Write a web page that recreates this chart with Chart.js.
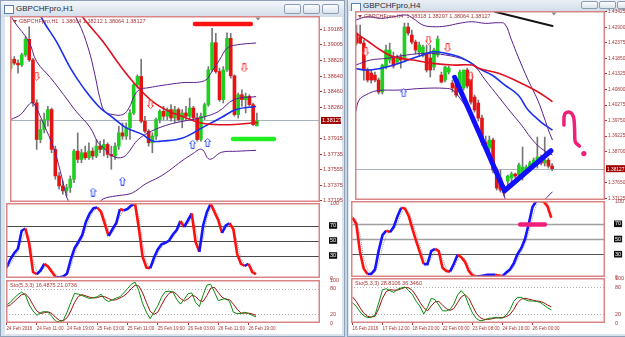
<!DOCTYPE html>
<html>
<head>
<meta charset="utf-8">
<title>GBPCHFpro H1 / H4</title>
<script src="https://cdn.jsdelivr.net/npm/chart.js@4.4.1/dist/chart.umd.min.js"></script>
<style>
  body { margin:0; width:625px; height:337px; overflow:hidden; position:relative; background:#c9d5e3; font-family:"Liberation Sans", Arial, sans-serif; }
  .frame { position:absolute; background:#dae4ef; border:1px solid #8ea1b7; box-sizing:border-box; }
  .bar { position:absolute; left:0; right:0; top:0; height:16px; background:linear-gradient(#f3f7fb,#d3deea); }
  .bar span { position:absolute; left:15px; top:3px; font-size:8px; color:#1e2a3a; }
  .ico { position:absolute; left:3px; top:4px; width:8px; height:7px; border:1px solid #5b7fb0; background:#fff; }
  .btn { position:absolute; top:3px; width:17px; height:10px; border:1px solid #8c9db3; border-radius:2px; background:linear-gradient(#fbfcfe,#dbe4ef); box-sizing:border-box; }
  .client { position:absolute; background:#fff; }
  canvas { position:absolute; }
</style>
</head>
<body>
<div class="frame" style="left:0;top:0;width:345px;height:337px">
  <div class="bar"><div class="ico"></div><span>GBPCHFpro,H1</span>
    <div class="btn" style="left:283px"></div><div class="btn" style="left:302px"></div><div class="btn" style="left:321px"></div>
  </div>
  <div class="client" style="left:4px;top:16px;width:337px;height:317px"></div>
</div>
<div class="frame" style="left:347px;top:-6px;width:280px;height:343px">
  <div class="bar"><div class="ico" style="top:8px"></div><span style="top:6px">GBPCHFpro,H4</span>
    <div class="btn" style="left:233px;top:6px;height:8px"></div><div class="btn" style="left:251px;top:6px;height:8px"></div><div class="btn" style="left:269px;top:6px;height:8px"></div>
  </div>
  <div class="client" style="left:1px;top:16px;width:278px;height:323px"></div>
</div>
<script>
// ---------- H1 (left window) ----------
const h1Open = [1.38734,1.38838,1.38792,1.38772,1.38888,1.39069,1.38830,1.38330,1.37906,1.38022,
  1.38137,1.38253,1.37791,1.37483,1.37367,1.37309,1.37348,1.37444,1.37771,1.37675,
  1.37752,1.37694,1.37771,1.37714,1.37829,1.37791,1.37848,1.37733,1.37714,1.37829,
  1.37983,1.37945,1.38041,1.38214,1.38541,1.38638,1.38118,1.38002,1.37868,1.37945,
  1.38137,1.38233,1.38176,1.38253,1.38156,1.38253,1.38137,1.38214,1.38176,1.38272,
  1.38156,1.37906,1.38176,1.38310,1.38715,1.39030,1.38695,1.38368,1.38715,1.39080,
  1.38645,1.38195,1.38426,1.38368,1.38407,1.38310,1.38064];
const h1High = [1.38869,1.38869,1.38830,1.38907,1.39100,1.39215,1.38849,1.38368,1.38137,1.38214,
  1.38291,1.38272,1.37829,1.37521,1.37425,1.37386,1.37483,1.37791,1.37983,1.37791,
  1.37829,1.37868,1.37810,1.37906,1.37887,1.37906,1.37868,1.37829,1.37868,1.38060,
  1.38098,1.38098,1.38253,1.38561,1.38657,1.38838,1.38176,1.38022,1.37983,1.38156,
  1.38253,1.38291,1.38272,1.38310,1.38291,1.38272,1.38253,1.38291,1.38387,1.38291,
  1.38214,1.38214,1.38330,1.38753,1.39196,1.39138,1.38734,1.38753,1.39146,1.39138,
  1.38657,1.38445,1.38484,1.38445,1.38426,1.38330,1.38212];
const h1Low = [1.38695,1.38772,1.38676,1.38753,1.38869,1.38811,1.38291,1.37791,1.37868,1.37983,
  1.38060,1.37752,1.37444,1.37328,1.37271,1.37251,1.37290,1.37405,1.37637,1.37637,
  1.37675,1.37675,1.37675,1.37694,1.37752,1.37714,1.37694,1.37560,1.37675,1.37791,
  1.37906,1.37906,1.37906,1.38195,1.38503,1.38098,1.37983,1.37829,1.37752,1.37906,
  1.38098,1.38137,1.38137,1.38118,1.38098,1.38118,1.38041,1.38137,1.38137,1.38137,
  1.37887,1.37887,1.38137,1.38291,1.38695,1.38676,1.38349,1.38330,1.38695,1.38618,
  1.38176,1.38156,1.38291,1.38214,1.38291,1.38068,1.38064];
const h1Close = [1.38838,1.38792,1.38772,1.38888,1.39069,1.38830,1.38330,1.37906,1.38022,1.38137,
  1.38253,1.37791,1.37483,1.37367,1.37309,1.37348,1.37444,1.37771,1.37675,1.37752,
  1.37694,1.37771,1.37714,1.37829,1.37791,1.37848,1.37733,1.37714,1.37829,1.37983,
  1.37945,1.38041,1.38214,1.38541,1.38638,1.38118,1.38002,1.37868,1.37945,1.38137,
  1.38233,1.38176,1.38253,1.38156,1.38253,1.38137,1.38214,1.38176,1.38272,1.38156,
  1.37906,1.38176,1.38310,1.38715,1.39030,1.38695,1.38368,1.38715,1.39080,1.38645,
  1.38195,1.38426,1.38368,1.38407,1.38310,1.38079,1.38127];

// indicator knots: [bar index, price]
const h1RedMA = [[0,1.4040],[10,1.3985],[20.3,1.39273],[24.8,1.39042],[29.2,1.38773],[33.5,1.38542],[38,1.38349],
  [42.4,1.38234],[45.9,1.38176],[50.4,1.38104],[54.7,1.38080],[60,1.38080],[66.3,1.38104]];
const h1BlueMA = [[0,1.4000],[5,1.3960],[8.9,1.39273],[12.3,1.39042],[16,1.38738],[19.5,1.38508],[23.9,1.38277],
  [27.4,1.38161],[30.8,1.38046],[35.3,1.37965],[38,1.37888],[40.6,1.37888],[45.9,1.37919],[52,1.38058],
  [56.5,1.38161],[60.5,1.38254],[65.8,1.38289]];
const h1BandUp = [[0,1.4060],[10,1.3990],[18.1,1.39273],[20.8,1.38969],[22.6,1.38658],[23.9,1.38392],[25.2,1.38234],
  [27.4,1.38196],[30.1,1.38196],[31.8,1.38277],[33.1,1.38407],[34.5,1.38484],[37.1,1.38508],[40.6,1.38534],
  [45.9,1.38565],[52,1.38588],[53.9,1.38692],[56,1.38831],[58.1,1.38969],[60.5,1.39004],[65.8,1.39027]];
const h1BandMid = [[0,1.39350],[1,1.39273],[4.9,1.39042],[7,1.38811],[10.7,1.38623],[14.2,1.38427],[17.6,1.38231],
  [21.3,1.38046],[23.4,1.37873],[24.8,1.37815],[27.4,1.37711],[30.1,1.37700],[31.8,1.37769],[33.5,1.37873],
  [35.3,1.37942],[38.8,1.38023],[42.5,1.38081],[45.9,1.38115],[51.2,1.38161],[55.7,1.38231],[59.9,1.38369],[65.8,1.38404]];
const h1BandLow = [[0.1,1.38138],[2.7,1.38196],[4.9,1.38311],[5.8,1.38334],[6.7,1.38292],[8.9,1.38081],[11.5,1.37815],
  [13.3,1.37542],[14.6,1.37311],[15.5,1.37195],[19.5,1.36961],[23.4,1.37146],[24.8,1.37215],[28.2,1.37250],
  [31.8,1.37273],[33.5,1.37307],[36.1,1.37388],[39.8,1.37469],[42.4,1.37542],[45.9,1.37657],[48.6,1.37734],
  [51.2,1.37792],[53.3,1.37677],[56.5,1.37757],[60.5,1.37769],[65.8,1.37780]];
const h1ArrowDown = [[7,1.38640],[37.5,1.38311],[62.6,1.38738]];
const h1ArrowUp = [[22.1,1.37296],[30,1.37423],[48.8,1.37850],[52.8,1.37873]];
const h1RedMark = [[49.4,1.39246],[64.4,1.39246]];
const h1GreenMark = [[59.6,1.37911],[70.6,1.37911]];

const h1Osc = [14,25,33,39,63,66,45,8,5,10, 19,15,8,1,1,2,6,25,40,48,
  57,75,86,93,94,88,72,56,65,73, 92,90,92,97,99,66,28,14,13,27,
  38,45,47,50,58,64,76,68,77,86, 48,35,70,88,99,88,77,60,70,73, 65,32,19,16,19,8,5];
const h1OscSig = [12,18,28,35,50,63,55,25,8,8, 14,17,12,5,2,2,4,15,32,44,
  52,66,80,89,93,91,80,64,60,69, 82,91,91,94,98,83,47,21,14,20,
  32,41,46,48,54,61,70,72,72,81, 67,42,52,79,93,93,83,68,65,71, 69,48,26,18,17,13,7];
const h1StoK = [42,48,58,66,72,65,42,28,18,24, 27,25,15,4,3,6,25,48,69,67,
  64,60,57,59,61,67,55,50,54,58, 61,70,80,90,95,75,45,25,10,25,
  40,60,73,74,72,55,44,55,68,70, 48,38,65,88,90,72,52,55,57,50, 25,22,22,25,22,18,14];
const h1StoD = [38,42,50,58,66,68,58,42,28,22, 24,26,22,13,6,5,12,28,48,62,
  66,63,60,58,59,62,61,57,53,54, 58,63,70,80,88,86,70,48,27,20,
  25,42,58,69,73,67,57,51,56,64, 62,52,50,64,81,83,71,60,55,54, 44,32,23,23,23,21,18];

const h1PriceTicks = [1.39185,1.39005,1.38820,1.38640,1.38460,1.38280,1.37915,1.37735,1.37555,1.37375,1.37195];
const h1DateIdx = [0,8,16,24,32,40,48,56,64];
const h1DateText = ['24 Feb 2016','24 Feb 11:00','24 Feb 19:00','25 Feb 03:00','25 Feb 11:00',
  '25 Feb 19:00','26 Feb 03:00','26 Feb 11:00','26 Feb 19:00'];

// ---------- H4 (right window) ----------
const h4Open = [1.42706,1.42571,1.42368,1.41457,1.41356,1.41288,1.41119,1.40714,1.41558,1.41794,
  1.41862,1.41727,1.41896,1.41862,1.42909,1.42638,1.42402,1.42065,1.41963,1.42031,
  1.41862,1.41558,1.41963,1.41288,1.41119,1.41389,1.41018,1.40950,1.40714,1.40849,
  1.41457,1.41322,1.40545,1.40343,1.39836,1.39026,1.38824,1.39094,1.38081,1.37811,
  1.37473,1.37709,1.37811,1.37946,1.37912,1.37845,1.38081,1.38148,1.38250,1.38418,
  1.38520,1.38317,1.38418,1.38218];
const h4High = [1.42976,1.42976,1.42470,1.41524,1.41457,1.41389,1.41187,1.41659,1.42301,1.42368,
  1.42065,1.41963,1.41997,1.43044,1.43044,1.42807,1.42470,1.42402,1.42301,1.42301,
  1.42301,1.42200,1.42605,1.41389,1.41592,1.41592,1.41119,1.41052,1.41457,1.41457,
  1.41524,1.41389,1.40613,1.40444,1.39938,1.39229,1.39229,1.39161,1.38148,1.38081,
  1.37541,1.37912,1.38013,1.37980,1.38317,1.38857,1.38250,1.38385,1.38486,1.39195,
  1.38587,1.39195,1.38486,1.38297];
const h4Low = [1.42301,1.42335,1.41119,1.41052,1.41018,1.41052,1.40647,1.40647,1.41491,1.41693,
  1.41524,1.41659,1.41524,1.41727,1.42638,1.42335,1.41997,1.41929,1.41896,1.41389,
  1.41220,1.41457,1.41896,1.41018,1.41052,1.41322,1.40714,1.40545,1.40647,1.40782,
  1.40849,1.40309,1.40039,1.39735,1.38925,1.38756,1.38688,1.37980,1.37406,1.37338,
  1.37203,1.37541,1.37676,1.37811,1.37811,1.37743,1.37946,1.38047,1.38148,1.38148,
  1.38250,1.38216,1.38148,1.38064];
const h4Close = [1.42368,1.42368,1.41457,1.41119,1.41119,1.41119,1.40714,1.41626,1.42132,1.42132,
  1.41592,1.41862,1.41794,1.42909,1.42706,1.42402,1.42132,1.42301,1.42233,1.41457,
  1.41457,1.42132,1.42503,1.41052,1.41558,1.41524,1.40849,1.40613,1.41389,1.41457,
  1.40917,1.40377,1.40106,1.39836,1.39026,1.38824,1.39094,1.38081,1.37473,1.37406,
  1.37304,1.37878,1.37946,1.37878,1.38250,1.38182,1.38182,1.38317,1.38418,1.38520,
  1.38317,1.38418,1.38216,1.38127];

const h4RedMA = [[-0.7,1.42750],[3.3,1.42412],[6.5,1.42132],[10,1.41906],[15.3,1.41794],[20.7,1.41683],[26,1.41626],
  [31.3,1.41626],[33.1,1.41514],[38.5,1.41345],[43.8,1.41062],[49.1,1.40724],[53.1,1.40387]];
const h4BlueMA = [[-0.7,1.41514],[2.9,1.41457],[6.5,1.41514],[10,1.41626],[12.7,1.41737],[15.3,1.41852],[18,1.41963],
  [20.7,1.42075],[24.2,1.42021],[27.8,1.41906],[30.5,1.41737],[33.1,1.41514],[36.7,1.41288],[40.2,1.40950],
  [43.8,1.40613],[46.5,1.40106],[49.9,1.39711],[53.1,1.39431]];
const h4BandUp = [[-0.2,1.43145],[2.9,1.43256],[6.5,1.43202],[10,1.43256],[13.5,1.43314],[15.3,1.43202],[18,1.42976],
  [20.7,1.42919],[24.2,1.42942],[27.8,1.43033],[31.3,1.43087],[34.9,1.43033],[38.5,1.43054],[40.2,1.43010],
  [42,1.42470],[43.8,1.41906],[46.5,1.41119],[49.1,1.40444],[50.9,1.39836],[52.2,1.39364],[53.1,1.39094]];
const h4BandMid = [[-0.2,1.41626],[3.8,1.41794],[8.2,1.41852],[13.5,1.41963],[18.9,1.42021],[24.2,1.41963],[29.5,1.41794],
  [32.2,1.41568],[34.9,1.41119],[38.5,1.40555],[42,1.40005],[44.7,1.39600],[47.3,1.39161],[49.9,1.38824],[53.1,1.38587]];
const h4BandLow = [[-0.2,1.40049],[0.7,1.40444],[2.5,1.40613],[5.5,1.40758],[11.8,1.40782],[18,1.40839],[24.2,1.40839],
  [26,1.40782],[27.8,1.40545],[30.5,1.40039],[33.1,1.39431],[35.8,1.38756],[38.5,1.37912],[40.2,1.37136],
  [42,1.36562],[47.3,1.36562],[50.9,1.37068],[53.1,1.37348]];
const h4ArrowDown = [[2.5,1.42075],[19.5,1.42470],[24.7,1.42210],[30.9,1.41254]];
const h4ArrowUp = [[12.8,1.40690]];
const h4BlackLine = [[37.5,1.43425],[53.1,1.42942]];
const h4BlueV = [[26.6,1.41210],[40.1,1.37382],[52.7,1.38732]];
const h4Question = [[56.2,1.39600],[56.4,1.39971],[57.7,1.40039],[58.8,1.39870],[59.1,1.39431],[59.3,1.39026],[60.4,1.38891]];
const h4QuestionDot = [[61.6,1.38638]];
const h4PinkMark = [[44.7,69],[51.3,69]];

const h4Osc = [78,70,33,11,4,4,10,35,55,61, 59,66,80,91,90,80,63,47,32,17,
  17,34,37,34,12,8,7,17,29,26, 20,8,2,1,1,2,3,3,3,2,
  1,6,10,18,30,38,50,70,92,100, 100,99,93,78];
const h4OscSig = [80,75,55,25,10,5,6,18,40,55, 60,62,70,84,90,86,73,57,41,25,
  17,24,34,35,24,11,8,11,22,27, 24,14,5,2,1,1,2,3,3,3,
  2,3,7,13,23,33,44,58,78,94, 99,100,97,88];
const h4StoK = [45,37,25,16,12,13,18,45,74,76, 72,68,75,78,80,72,63,48,37,20,
  35,55,52,40,27,27,30,42,62,72, 62,40,22,10,5,6,10,11,12,11,
  11,18,29,48,57,57,52,49,49,48, 46,40,34,29];
const h4StoD = [58,48,34,22,15,13,15,32,55,70, 74,73,73,76,79,78,72,60,46,34,
  27,38,47,48,40,32,28,32,45,58, 63,55,38,22,12,8,8,9,11,12,
  12,14,19,30,45,53,55,53,51,49, 48,45,40,36];

const h4PriceTicks = [1.43425,1.42900,1.42375,1.41850,1.41325,1.40800,1.40275,1.39750,1.39225,1.38700,1.37650,1.37125];
const h4DateIdx = [0,8,16,24,32,40,48];
const h4DateText = ['16 Feb 2016','17 Feb 12:00','18 Feb 20:00','22 Feb 00:00','23 Feb 08:00','24 Feb 16:00','26 Feb 00:00'];

const lastPrice = 1.38127;

// ---------- drawing ----------
Chart.defaults.font.family = '"Liberation Sans", Arial, sans-serif';
Chart.defaults.font.size = 5.5;
const AXIS = '#a83838';
const FRAME = '#d98585';

const decor = {
  id: 'decor',
  beforeDatasetsDraw(ch, args, o) {
    const { ctx, chartArea: r, scales: { y } } = ch;
    ctx.save();
    for (const l of o.lines || []) {
      const py = Math.round(y.getPixelForValue(l.v)) + 0.5;
      ctx.strokeStyle = l.c; ctx.lineWidth = l.w; ctx.setLineDash(l.d || []);
      ctx.beginPath(); ctx.moveTo(r.left, py); ctx.lineTo(r.right, py); ctx.stroke();
    }
    ctx.restore();
  },
  afterDraw(ch, args, o) {
    const { ctx, chartArea: r, scales: { x, y } } = ch;
    ctx.save();
    ctx.strokeStyle = FRAME; ctx.lineWidth = 1.5;
    ctx.strokeRect(r.left + 0.75, r.top + 0.75, r.width - 1.5, r.height - 1.5);
    ctx.font = '5.5px "Liberation Sans"'; ctx.textBaseline = 'middle';
    if (o.title) {
      ctx.fillStyle = AXIS;
      ctx.fillText(o.title, r.left + (o.icon ? 9 : 4), r.top + 5.5);
      if (o.icon) {
        ctx.beginPath(); ctx.moveTo(r.left + 3, r.top + 4); ctx.lineTo(r.left + 7, r.top + 4);
        ctx.lineTo(r.left + 5, r.top + 7); ctx.closePath(); ctx.fill();
      }
    }
    if (o.last != null) {
      const py = y.getPixelForValue(o.last);
      ctx.fillStyle = '#a00000'; ctx.fillRect(r.right + 1, py - 3.5, 20, 7);
      ctx.font = (o.lastFont || 5.5) + 'px "Liberation Sans"';
      ctx.fillStyle = '#fff'; ctx.fillText(o.last.toFixed(5), r.right + 2, py + 0.5);
    }
    if (o.shift != null) {
      const px = x.getPixelForValue(o.shift);
      ctx.fillStyle = '#8a8a8a'; ctx.beginPath();
      ctx.moveTo(px - 2.5, r.top + 1.5); ctx.lineTo(px + 2.5, r.top + 1.5); ctx.lineTo(px, r.top + 4.5);
      ctx.closePath(); ctx.fill();
    }
    ctx.restore();
  }
};

function arrowImg(up, color) {
  const c = document.createElement('canvas'); c.width = 7; c.height = 9;
  const g = c.getContext('2d'); g.translate(0.5, 0.5);
  const P = up ? [[3,0],[6,3],[4.5,3],[4.5,8],[1.5,8],[1.5,3],[0,3]]
               : [[3,8],[6,5],[4.5,5],[4.5,0],[1.5,0],[1.5,5],[0,5]];
  g.beginPath(); P.forEach(([px, py], i) => i ? g.lineTo(px, py) : g.moveTo(px, py)); g.closePath();
  g.fillStyle = '#fff'; g.fill(); g.strokeStyle = color; g.lineWidth = 1; g.stroke();
  return c;
}
const upImg = arrowImg(true, '#3a55ff');
const downImg = arrowImg(false, '#ff3b3b');

const pts = arr => arr.map(([x, y]) => ({ x, y }));
const seq = arr => arr.map((y, x) => ({ x, y }));
const line = (data, color, width, extra) => Object.assign(
  { type: 'line', data, borderColor: color, borderWidth: width, pointRadius: 0, tension: 0.4, fill: false, clip: 0, order: 4 }, extra);
const marker = (data, color, width) => line(data, color, width,
  { tension: 0, borderCapStyle: 'round', borderJoinStyle: 'round', order: 1 });
const arrows = (data, img) => ({ type: 'scatter', data: pts(data), pointStyle: img, pointRadius: 4, order: 0 });

function candles(o, h, l, c) {
  return [
    { type: 'bar', data: o.map((v, i) => ({ x: i, y: [l[i], h[i]] })), backgroundColor: '#767676',
      barThickness: 1, grouped: false, order: 10 },
    { type: 'bar', data: o.map((v, i) => ({ x: i, y: [Math.min(v, c[i]), Math.max(v, c[i])] })),
      backgroundColor: o.map((v, i) => c[i] >= v ? '#1fcf1f' : '#e41414'),
      barThickness: 3, grouped: false, minBarLength: 1, order: 9 }
  ];
}

function oscSets(main, sig) {
  return [
    line(seq(main), '#1414ff', 2.6, { tension: 0, order: 2,
      segment: { borderColor: s => s.p1.parsed.y >= s.p0.parsed.y ? '#1414ff' : '#ff1010' } }),
    line(seq(sig), '#9a9a9a', 1, { tension: 0, borderDash: [1, 1], order: 3 })
  ];
}
function stoSets(k, d) {
  return [
    line(seq(k), '#0c8a0c', 1, { tension: 0, order: 2 }),
    line(seq(d), '#a01010', 1, { tension: 0, order: 3 })
  ];
}

const priceY = (min, max, ticks, size) => ({
  type: 'linear', position: 'right', min, max,
  afterBuildTicks: s => { s.ticks = ticks.map(v => ({ value: v })); },
  ticks: { autoSkip: false, padding: 1, color: AXIS, font: { size }, callback: v => Number(v).toFixed(5) },
  grid: { drawOnChartArea: false, drawTicks: true, tickLength: 2, color: AXIS },
  border: { display: false }
});
const levelY = (ticks, boxed) => ({
  type: 'linear', position: 'right', min: 0, max: 100,
  afterBuildTicks: s => { s.ticks = ticks.map(v => ({ value: v })); },
  ticks: { autoSkip: false, padding: 2, callback: v => String(v),
    color: c => boxed.includes(c.tick.value) ? '#fff' : AXIS,
    showLabelBackdrop: c => boxed.includes(c.tick.value), backdropColor: '#111',
    backdropPadding: { left: 1, right: 1, top: 0, bottom: 0 } },
  grid: { display: false },
  border: { display: false }
});

function pane(box, xr, y, datasets, decorOpts, dates) {
  const [left, top, w, h, axisW] = box;
  const padT = 5, padB = dates ? 0 : 5, xh = dates ? 11 : 0;
  const c = document.createElement('canvas');
  c.width = 1 + w + axisW; c.height = padT + h + padB + xh;
  c.style.left = (left - 1) + 'px'; c.style.top = (top - padT) + 'px';
  document.body.appendChild(c);
  y.afterFit = s => { s.width = axisW; s.paddingTop = 0; s.paddingBottom = 0; };
  const x = { type: 'linear', min: xr[0], max: xr[1], offset: false, display: !!dates, grid: { offset: false } };
  if (dates) Object.assign(x, {
    afterBuildTicks: s => { s.ticks = dates[0].map(v => ({ value: v })); },
    afterFit: s => { s.height = xh; s.paddingLeft = 0; s.paddingRight = 0; },
    ticks: { autoSkip: false, maxRotation: 0, minRotation: 0, align: 'start', padding: 1, color: AXIS,
      font: { size: 4.6 }, callback: v => dates[1][dates[0].indexOf(v)] },
    grid: { offset: false, drawOnChartArea: false, drawTicks: true, tickLength: 2, color: AXIS },
    border: { display: false }
  });
  return new Chart(c, {
    type: 'line',
    data: { datasets },
    options: {
      responsive: false, animation: false, events: [],
      layout: { padding: { left: 1, right: 0, top: padT, bottom: padB } },
      scales: { x, y },
      plugins: { legend: { display: false }, tooltip: { enabled: false }, decor: decorOpts }
    },
    plugins: [decor]
  });
}

const priceLine = [{ v: lastPrice, c: '#aab3bd', w: 1 }];
const oscLevelsL = [{ v: 70, c: '#4a4a4a', w: 1 }, { v: 50, c: '#4a4a4a', w: 1 }, { v: 30, c: '#4a4a4a', w: 1 }];
const oscLevelsR = [{ v: 70, c: '#a0a0a0', w: 1.5 }, { v: 50, c: '#a0a0a0', w: 1.5 }, { v: 30, c: '#555', w: 1 }];
const stoLevels = [{ v: 80, c: '#b4b4b4', w: 1, d: [1, 2] }, { v: 20, c: '#b4b4b4', w: 1, d: [1, 2] }];

// left: H1
const h1X = [-0.15, 82.92];
pane([6, 16, 314, 186, 23], h1X, priceY(1.3718, 1.3934, h1PriceTicks, 5.5), [
  ...candles(h1Open, h1High, h1Low, h1Close),
  line(pts(h1BandUp), '#5a1f8c', 1),
  line(pts(h1BandMid), '#5a1f8c', 1),
  line(pts(h1BandLow), '#5a1f8c', 1),
  line(pts(h1RedMA), '#e01020', 1.6, { order: 3 }),
  line(pts(h1BlueMA), '#1a2ff0', 1.6, { order: 3 }),
  marker(pts(h1RedMark), '#ff1010', 4.5),
  marker(pts(h1GreenMark), '#22ee22', 4.5),
  arrows(h1ArrowDown, downImg),
  arrows(h1ArrowUp, upImg)
], { lines: priceLine, last: lastPrice, shift: 66.3, icon: true,
     title: 'GBPCHFpro,H1  1.38064 1.38212 1.38064 1.38127' });
pane([6, 203, 314, 75, 23], h1X, levelY([0, 30, 50, 70, 100], [30, 50, 70]),
  oscSets(h1Osc, h1OscSig), { lines: oscLevelsL });
pane([6, 280, 314, 43, 23], h1X, levelY([0, 20, 80, 100], []),
  stoSets(h1StoK, h1StoD), { lines: stoLevels, title: 'Sto(5,3,3) 16.4875 21.0736' }, [h1DateIdx, h1DateText]);

// right: H4
const h4X = [-0.4, 67.33];
pane([351, 11, 254, 189, 20], h4X, priceY(1.3707, 1.4345, h4PriceTicks, 4.8), [
  ...candles(h4Open, h4High, h4Low, h4Close),
  line(pts(h4BandUp), '#5a1f8c', 1),
  line(pts(h4BandMid), '#5a1f8c', 1),
  line(pts(h4BandLow), '#5a1f8c', 1),
  line(pts(h4RedMA), '#e01020', 1.6, { order: 3 }),
  line(pts(h4BlueMA), '#1a2ff0', 1.6, { order: 3 }),
  marker(pts(h4BlackLine), '#151515', 2),
  marker(pts(h4BlueV), '#1010ff', 5),
  line(pts(h4Question), '#f0207a', 3.5, { tension: 0.35, borderCapStyle: 'round', order: 1 }),
  { type: 'scatter', data: pts(h4QuestionDot), pointRadius: 2.6, backgroundColor: '#f0207a', borderWidth: 0, order: 1 },
  arrows(h4ArrowDown, downImg),
  arrows(h4ArrowUp, upImg)
], { lines: priceLine, last: lastPrice, lastFont: 4.8, shift: 53.5, icon: true,
     title: 'GBPCHFpro,H4  1.38318 1.38297 1.38064 1.38127' });
pane([351, 201, 254, 76, 20], h4X, levelY([0, 30, 50, 70, 100], [30, 50, 70]),
  [...oscSets(h4Osc, h4OscSig), marker(pts(h4PinkMark), '#f0207a', 4.5)], { lines: oscLevelsR });
pane([351, 278, 254, 45, 20], h4X, levelY([0, 20, 80, 100], []),
  stoSets(h4StoK, h4StoD), { lines: stoLevels, title: 'Sto(5,3,3) 28.8106 36.3460' }, [h4DateIdx, h4DateText]);
</script>
</body>
</html>
